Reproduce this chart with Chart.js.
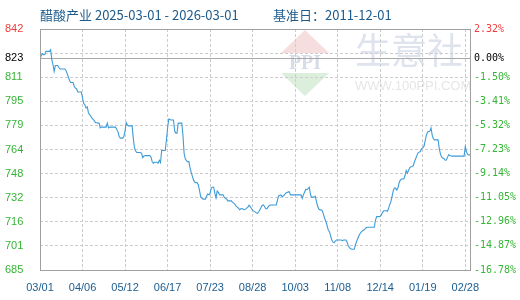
<!DOCTYPE html>
<html><head><meta charset="utf-8">
<script src="https://cdn.jsdelivr.net/npm/chart.js@4"></script>
<style>html,body{margin:0;padding:0;background:#fff;}canvas{display:block;}</style>
</head><body>
<canvas id="c" width="520" height="300"></canvas>
<script>
const titleMain = "醋酸产业 2025-03-01 - 2026-03-01";
const titleBase = "基准日：2011-12-01";
const watermarkName = "生意社";
const watermarkUrl = "WWW.100PPI.COM";
const baseValue = 823;
const xTickIndex = [0, 36, 72, 108, 144, 180, 216, 252, 288, 324, 360];
const xTickLabels = ["03/01", "04/06", "05/12", "06/17", "07/23", "08/28", "10/03", "11/08", "12/14", "01/19", "02/28"];
const yTickValues = [842.09, 826.37, 823, 810.65, 794.94, 779.22, 763.50, 747.78, 732.06, 716.34, 700.62, 684.90];
const yTickLabels = ["842", "", "823", "811", "795", "779", "764", "748", "732", "716", "701", "685"];
const yPctLabels = ["2.32%", "", "0.00%", "-1.50%", "-3.41%", "-5.32%", "-7.23%", "-9.14%", "-11.05%", "-12.96%", "-14.87%", "-16.78%"];
const prices = [
822.6, 824.6, 826.0, 825.3, 825.3, 827.5, 827.5, 827.5, 827.5, 828.6,
822.0, 818.8, 814.4, 818.3, 818.3, 818.3, 817.0, 816.0, 816.0, 816.0,
816.0, 816.0, 815.0, 813.0, 810.7, 808.5, 807.2, 807.2, 807.2, 804.6,
803.6, 803.0, 801.0, 801.0, 801.0, 801.0, 797.0, 793.5, 792.7, 790.5,
791.3, 787.5, 786.2, 785.2, 784.0, 783.2, 782.2, 781.0, 780.9, 780.7,
780.7, 777.6, 778.1, 778.1, 778.1, 778.1, 778.1, 780.7, 777.6, 778.1,
778.1, 778.1, 778.1, 778.1, 778.1, 776.5, 775.0, 772.0, 770.9, 770.9,
770.9, 772.0, 775.5, 781.0, 779.6, 778.9, 778.9, 778.9, 778.9, 770.5,
764.5, 762.5, 761.5, 761.5, 761.5, 761.5, 761.0, 758.2, 759.3, 759.5,
759.5, 759.5, 759.5, 759.5, 758.5, 755.5, 754.6, 755.2, 755.2, 755.2,
754.6, 756.5, 755.0, 762.8, 762.8, 762.8, 762.8, 769.5, 777.5, 783.3,
783.0, 782.7, 782.7, 782.7, 775.5, 774.2, 774.2, 780.7, 780.7, 780.7,
780.7, 773.0, 761.0, 757.4, 756.2, 755.6, 755.6, 751.5, 748.5, 746.0,
743.5, 742.3, 741.9, 741.9, 740.5, 736.8, 732.8, 731.8, 731.1, 731.1,
731.1, 733.0, 734.5, 734.0, 735.0, 738.5, 738.9, 738.9, 735.0, 732.0,
736.4, 735.5, 734.0, 733.9, 733.9, 733.9, 732.2, 731.7, 731.2, 730.0,
730.0, 730.0, 730.0, 729.0, 728.5, 727.8, 726.5, 725.9, 725.2, 724.2,
724.8, 725.0, 724.5, 724.2, 724.6, 725.3, 725.9, 727.2, 726.3, 725.0,
723.8, 723.3, 722.8, 722.2, 721.9, 722.7, 724.1, 725.5, 727.0, 727.3,
726.5, 725.0, 724.8, 725.9, 726.8, 727.3, 727.3, 727.3, 727.3, 727.3,
727.3, 730.5, 733.2, 733.6, 733.9, 732.8, 733.1, 734.0, 735.0, 735.4,
735.7, 736.0, 733.9, 733.9, 733.9, 733.9, 733.9, 733.9, 733.9, 733.9,
733.9, 733.9, 731.7, 733.9, 735.8, 737.6, 737.3, 738.0, 738.9, 734.0,
732.4, 732.4, 732.4, 733.0, 729.5, 726.5, 724.8, 724.1, 724.1, 723.5,
721.0, 718.5, 716.5, 714.0, 711.0, 709.9, 707.2, 704.5, 703.2, 702.7,
703.8, 704.5, 704.5, 704.5, 704.5, 704.5, 704.0, 704.5, 704.5, 704.5,
703.0, 700.5, 699.5, 698.8, 698.4, 698.4, 698.4, 701.2, 703.6, 705.4,
707.2, 708.7, 709.8, 710.4, 711.0, 711.6, 712.5, 712.8, 712.8, 712.8,
712.8, 712.8, 712.8, 712.8, 717.5, 719.7, 719.7, 719.7, 720.0, 720.8,
722.5, 723.5, 723.5, 723.5, 723.2, 724.8, 727.5, 729.3, 732.8, 736.5,
738.3, 738.3, 737.0, 738.5, 741.8, 743.5, 744.3, 744.3, 744.3, 746.5,
749.8, 748.1, 749.8, 751.7, 752.2, 752.4, 753.0, 755.5, 757.5, 759.5,
761.2, 761.8, 762.2, 763.9, 764.6, 765.5, 769.0, 772.5, 774.8, 775.2,
775.5, 777.6, 772.9, 770.5, 769.8, 769.8, 769.8, 769.8, 764.0, 760.5,
758.5, 758.0, 757.5, 756.5, 756.7, 758.5, 760.2, 759.5, 759.3, 759.2,
759.2, 759.2, 759.2, 759.2, 759.2, 759.2, 759.2, 759.2, 759.2, 759.2,
765.4, 762.0, 760.3, 760.0, 760.0
];

const RED = '#f03c3c', GREEN = '#35b535', BLACK = '#000000';
const TRANSPARENT = 'rgba(0,0,0,0)';
const GRID = '#cccccc';
function tickColor(c) {
  if (c.index === 0) return RED;
  if (c.tick && c.tick.value === baseValue) return BLACK;
  return GREEN;
}

const decorPlugin = {
  id: 'decor',
  beforeDraw(chart) {
    const ctx = chart.ctx, a = chart.chartArea;
    ctx.save();
    ctx.fillStyle = '#ffffff';
    ctx.fillRect(0, 0, chart.width, chart.height);
    // watermark logo
    const cx = a.left + 265, top = a.top + 1;
    ctx.fillStyle = '#f7dede';
    ctx.beginPath(); ctx.moveTo(cx, top); ctx.lineTo(cx + 24, top + 23); ctx.lineTo(cx - 24, top + 23); ctx.closePath(); ctx.fill();
    ctx.fillStyle = '#dcefdc';
    ctx.beginPath(); ctx.moveTo(cx - 24, top + 43); ctx.lineTo(cx + 24, top + 43); ctx.lineTo(cx, top + 66); ctx.closePath(); ctx.fill();
    ctx.fillStyle = '#d6dce9';
    ctx.font = 'bold 20px "Liberation Serif"';
    ctx.textAlign = 'center'; ctx.textBaseline = 'middle';
    ctx.fillText('PPI', cx, top + 34);
    ctx.fillStyle = '#dfe3ee';
    ctx.font = '36px "Noto Sans CJK SC"';
    ctx.textAlign = 'left';
    ctx.fillText(watermarkName, a.left + 315, a.top + 21);
    ctx.fillStyle = '#e6e6e6';
    ctx.font = '13px "Liberation Sans"';
    ctx.fillText(watermarkUrl, a.left + 315, a.top + 57);
    // title
    ctx.fillStyle = '#1d5b8c';
    ctx.font = '13px "Noto Sans CJK SC"';
    ctx.textBaseline = 'middle';
    ctx.fillText(titleMain, a.left, 15);
    ctx.fillText(titleBase, a.left + 233, 15);
    ctx.restore();
  },
  beforeDatasetsDraw(chart) {
    const ctx = chart.ctx, a = chart.chartArea;
    const y = Math.round(chart.scales.y.getPixelForValue(baseValue)) + 0.5;
    ctx.save();
    ctx.strokeStyle = '#a8a8a8';
    ctx.lineWidth = 1;
    ctx.beginPath(); ctx.moveTo(a.left, y); ctx.lineTo(a.right, y); ctx.stroke();
    ctx.restore();
  },
  afterDatasetsDraw(chart) {
    const ctx = chart.ctx, a = chart.chartArea;
    ctx.save();
    ctx.strokeStyle = '#a0a0a0';
    ctx.lineWidth = 1;
    ctx.strokeRect(Math.round(a.left) + 0.5, Math.round(a.top) + 0.5, Math.round(a.right - a.left), Math.round(a.bottom - a.top));
    ctx.restore();
  }
};

new Chart(document.getElementById('c'), {
  type: 'line',
  data: {
    datasets: [{
      data: prices.map((v, i) => ({ x: i, y: v })),
      borderColor: '#3d9bd8',
      borderWidth: 1.1,
      pointRadius: 0,
      fill: false,
      tension: 0
    }]
  },
  options: {
    responsive: false,
    animation: false,
    devicePixelRatio: 1,
    layout: { padding: { left: 5, top: 29, right: 0, bottom: 0 } },
    plugins: { legend: { display: false }, tooltip: { enabled: false }, title: { display: false } },
    scales: {
      x: {
        type: 'linear', min: 0, max: prices.length - 1,
        afterBuildTicks: s => { s.ticks = xTickIndex.map(v => ({ value: v })); },
        afterFit: s => { s.height = 30; },
        ticks: {
          autoSkip: false, maxRotation: 0, padding: 11, color: '#1a5d91',
          font: { family: 'Liberation Sans', size: 11 },
          callback: (v, i) => xTickLabels[i]
        },
        grid: { drawTicks: false, lineWidth: 1, color: c => (c.tick && c.tick.value === 0) ? TRANSPARENT : GRID },
        border: { display: false, dash: [3, 2] }
      },
      y: {
        position: 'left',
        min: yTickValues[yTickValues.length - 1], max: yTickValues[0],
        afterBuildTicks: s => { s.ticks = yTickValues.map(v => ({ value: v })); },
        afterFit: s => { s.width = 35; },
        ticks: {
          autoSkip: false, crossAlign: 'far', padding: 0, color: tickColor,
          font: { family: 'Liberation Sans', size: 11 },
          callback: (v, i) => yTickLabels[i]
        },
        grid: {
          drawTicks: false, lineWidth: 1,
          color: c => (c.tick && (c.index === 0 || c.index === yTickValues.length - 1 || c.tick.value === baseValue)) ? TRANSPARENT : GRID
        },
        border: { display: false, dash: [3, 2] }
      },
      yR: {
        position: 'right',
        min: yTickValues[yTickValues.length - 1], max: yTickValues[0],
        afterBuildTicks: s => { s.ticks = yTickValues.map(v => ({ value: v })); },
        afterFit: s => { s.width = 50; },
        ticks: {
          autoSkip: false, padding: 4, color: tickColor,
          font: { family: 'DejaVu Sans Mono', size: 10 },
          callback: (v, i) => yPctLabels[i]
        },
        grid: { display: false, drawTicks: false },
        border: { display: false }
      }
    }
  },
  plugins: [decorPlugin]
});
</script>
</body></html>
